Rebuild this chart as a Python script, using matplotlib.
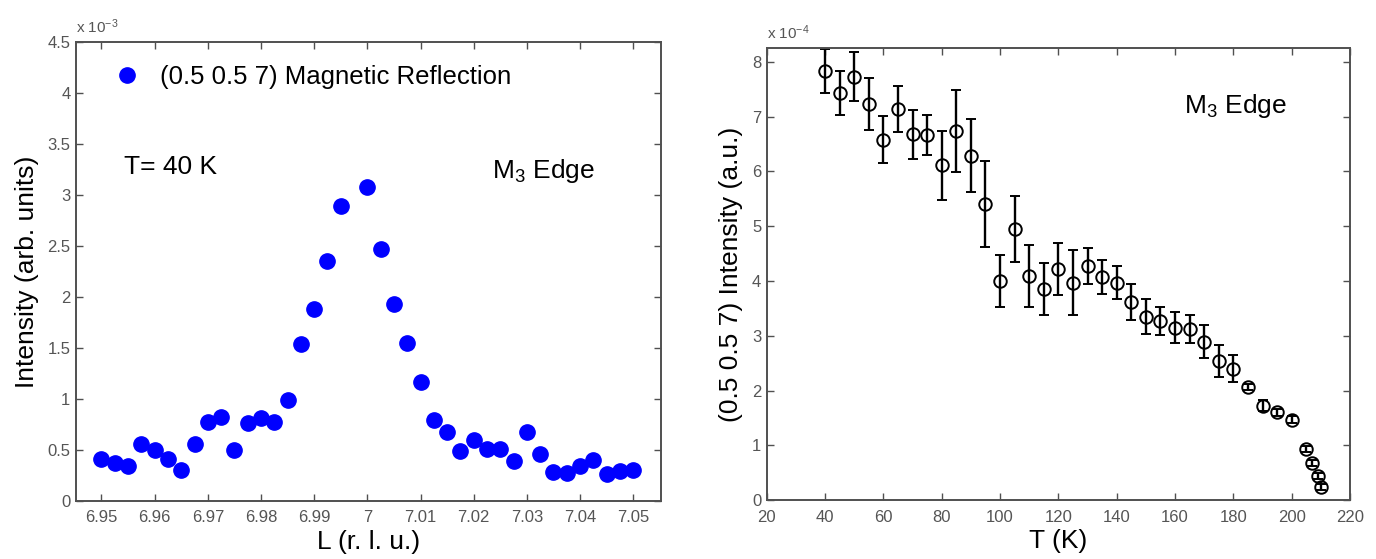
import matplotlib
matplotlib.use("Agg")
import matplotlib.pyplot as plt

plt.rcParams['font.family'] = ['Liberation Sans', 'DejaVu Sans']
plt.rcParams['mathtext.fontset'] = 'custom'
plt.rcParams['mathtext.rm'] = 'Liberation Sans'
plt.rcParams['mathtext.it'] = 'Liberation Sans:italic'

# Left panel: L scan at T = 40 K, intensity in units of 1e-3
L_rlu = [6.95, 6.9525, 6.955, 6.9575, 6.96, 6.9625, 6.965, 6.9675, 6.97, 6.9725,
         6.975, 6.9775, 6.98, 6.9825, 6.985, 6.9875, 6.99, 6.9925, 6.995, 7.0,
         7.0025, 7.005, 7.0075, 7.01, 7.0125, 7.015, 7.0175, 7.02, 7.0225, 7.025,
         7.0275, 7.03, 7.0325, 7.035, 7.0375, 7.04, 7.0425, 7.045, 7.0475, 7.05]
I_scan = [0.405, 0.366, 0.34, 0.56, 0.50, 0.405, 0.30, 0.56, 0.775, 0.82,
          0.50, 0.76, 0.81, 0.77, 0.99, 1.54, 1.88, 2.35, 2.89, 3.08,
          2.47, 1.93, 1.55, 1.16, 0.79, 0.67, 0.49, 0.60, 0.51, 0.51,
          0.39, 0.67, 0.46, 0.285, 0.275, 0.345, 0.395, 0.26, 0.29, 0.30]
L_ticks = [6.95, 6.96, 6.97, 6.98, 6.99, 7.0, 7.01, 7.02, 7.03, 7.04, 7.05]
L_ticklabels = ['6.95', '6.96', '6.97', '6.98', '6.99', '7', '7.01', '7.02', '7.03', '7.04', '7.05']
I_ticks = [0, 0.5, 1, 1.5, 2, 2.5, 3, 3.5, 4, 4.5]
I_ticklabels = ['0', '0.5', '1', '1.5', '2', '2.5', '3', '3.5', '4', '4.5']

# Right panel: temperature dependence, intensity in units of 1e-4
T_K = [40, 45, 50, 55, 60, 65, 70, 75, 80, 85, 90, 95, 100, 105, 110, 115, 120, 125,
       130, 135, 140, 145, 150, 155, 160, 165, 170, 175, 180, 185, 190, 195, 200,
       205, 207, 209, 210]
I_T = [7.84, 7.43, 7.73, 7.23, 6.58, 7.14, 6.68, 6.67, 6.11, 6.74, 6.29, 5.41, 4.00,
       4.95, 4.09, 3.85, 4.22, 3.97, 4.27, 4.08, 3.97, 3.61, 3.35, 3.27, 3.15, 3.12,
       2.89, 2.54, 2.40, 2.06, 1.72, 1.60, 1.47, 0.93, 0.68, 0.44, 0.24]
I_T_err = [0.40, 0.40, 0.45, 0.48, 0.43, 0.42, 0.45, 0.36, 0.63, 0.75, 0.67, 0.78, 0.47,
           0.60, 0.56, 0.47, 0.47, 0.60, 0.33, 0.31, 0.30, 0.33, 0.32, 0.25, 0.28, 0.26,
           0.30, 0.29, 0.24, 0.05, 0.10, 0.07, 0.07, 0.05, 0.05, 0.05, 0.05]
T_ticks = [20, 40, 60, 80, 100, 120, 140, 160, 180, 200, 220]
IT_ticks = [0, 1, 2, 3, 4, 5, 6, 7, 8]

spine_col = '#505050'
tick_col = '#555555'

fig = plt.figure(figsize=(13.76, 5.59), dpi=100)
ax1 = fig.add_axes([0.0552, 0.1043, 0.4251, 0.8206])
ax2 = fig.add_axes([0.5572, 0.1055, 0.4239, 0.8091])


def style(ax):
    for s in ax.spines.values():
        s.set_color(spine_col)
        s.set_linewidth(1.4)
    ax.tick_params(direction='in', length=5, width=1.0, color=spine_col,
                   top=True, right=True, labelsize=12, labelcolor=tick_col)
    ax.tick_params(axis='x', pad=7)
    ax.tick_params(axis='y', pad=4)


# left panel
ax1.plot(L_rlu, I_scan, 'o', color='#0000ff', ms=11, mec='#0000ff',
         label='(0.5 0.5 7) Magnetic Reflection')
ax1.set_xlim(6.9452, 7.0552)
ax1.set_ylim(0, 4.5)
ax1.set_xticks(L_ticks)
ax1.set_xticklabels(L_ticklabels)
ax1.set_yticks(I_ticks)
ax1.set_yticklabels(I_ticklabels)
style(ax1)
ax1.set_xlabel('L (r. l. u.)', fontsize=19, labelpad=3)
ax1.set_ylabel('Intensity (arb. units)', fontsize=19, labelpad=6)
ax1.legend(loc='upper left', frameon=False, fontsize=18.5, handletextpad=0.3,
           borderaxespad=0.3, bbox_to_anchor=(0.012, 0.988), markerscale=1.0)
ax1.text(6.9542, 3.27, 'T= 40 K', fontsize=19, va='center', ha='left')
ax1.text(7.0234, 3.23, 'M$_3$ Edge', fontsize=19, va='center', ha='left')
ax1.text(0.0, 1.012, 'x 10$^{-3}$', transform=ax1.transAxes, fontsize=11,
         color=tick_col, ha='left', va='bottom')

# right panel
ax2.errorbar(T_K, I_T, yerr=I_T_err, fmt='o', mfc='none', mec='k', ecolor='k',
             ms=9, mew=1.4, elinewidth=1.7, capsize=3.5, capthick=1.7)
ax2.set_xlim(20, 220)
ax2.set_ylim(0, 8.26)
ax2.set_xticks(T_ticks)
ax2.set_yticks(IT_ticks)
style(ax2)
ax2.set_xlabel('T (K)', fontsize=19, labelpad=3)
ax2.set_ylabel('(0.5 0.5 7) Intensity (a.u.)', fontsize=19, labelpad=6)
ax2.text(163, 7.2, 'M$_3$ Edge', fontsize=19, va='center', ha='left')
ax2.text(0.0, 1.012, 'x 10$^{-4}$', transform=ax2.transAxes, fontsize=11,
         color=tick_col, ha='left', va='bottom')

fig.savefig('out.png', dpi=100)
